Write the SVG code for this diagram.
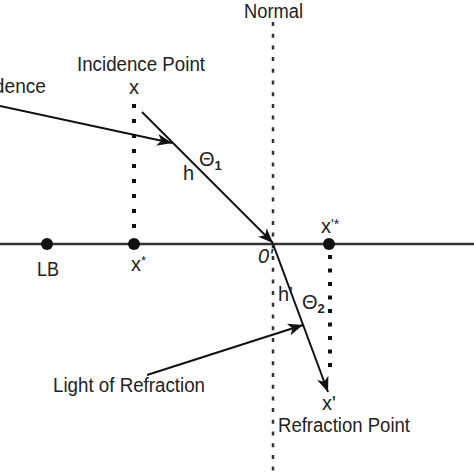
<svg xmlns="http://www.w3.org/2000/svg" width="474" height="474" viewBox="0 0 474 474">
<style>
text{font-family:"Liberation Sans",Arial,sans-serif;fill:#222;font-size:20px}
.ray{stroke:#111;stroke-width:2;fill:none}
.dot{stroke:#111;stroke-width:4;stroke-dasharray:4 11;fill:none}
.dot2{stroke:#111;stroke-width:4;stroke-dasharray:4 9.5;fill:none}
</style>
<defs>
<marker id="ah" markerUnits="userSpaceOnUse" markerWidth="16" markerHeight="12" refX="15" refY="6" orient="auto">
<path d="M0,0 L15,6 L0,12 L4,6 Z" fill="#111"/>
</marker>
</defs>
<rect width="474" height="474" fill="#fff"/>
<g id="connectors">
<line x1="0" y1="244" x2="474" y2="244" stroke="#333" stroke-width="2.5"/>
<line id="normal" x1="273" y1="22" x2="273" y2="474" stroke="#333" stroke-width="2.5" stroke-dasharray="4 7.7"/>
<line class="dot" x1="134" y1="104" x2="134" y2="240"/>
<line class="dot2" x1="330" y1="255" x2="330" y2="370"/>
<line class="ray" x1="0" y1="106" x2="172" y2="143" marker-end="url(#ah)"/>
<line class="ray" x1="142" y1="112" x2="273" y2="243" marker-end="url(#ah)"/>
<line class="ray" x1="273" y1="244" x2="328" y2="392" marker-end="url(#ah)"/>
<line class="ray" x1="147" y1="375" x2="303" y2="325" marker-end="url(#ah)"/>
</g>
<g id="LB"><circle cx="47" cy="244" r="6" fill="#111"/><text x="48" y="276" text-anchor="middle" textLength="22" lengthAdjust="spacingAndGlyphs">LB</text></g>
<g id="xstar"><circle cx="134" cy="244" r="6" fill="#111"/><text x="131" y="271">x<tspan font-size="13" dy="-6">*</tspan></text></g>
<g id="xprimestar"><circle cx="329" cy="244" r="6" fill="#111"/><text x="321" y="233">x<tspan font-size="14" dy="-4">'*</tspan></text></g>
<g id="labels">
<text x="244" y="18" textLength="59" lengthAdjust="spacingAndGlyphs">Normal</text>
<text x="77" y="71" textLength="128" lengthAdjust="spacingAndGlyphs">Incidence Point</text>
<text x="134" y="94" text-anchor="middle">x</text>
<text x="46" y="93" text-anchor="end" textLength="150" lengthAdjust="spacingAndGlyphs">Light of Incidence</text>
<text x="199" y="166" font-size="20">Θ<tspan font-size="13" font-weight="bold" dy="4">1</tspan></text>
<text x="183" y="180">h</text>
<text x="258" y="263" font-style="italic" fill="#555">0'</text>
<text x="278" y="301">h'</text>
<text x="302" y="309" font-size="20">Θ<tspan font-size="13" font-weight="bold" dy="4">2</tspan></text>
<text x="329" y="410" text-anchor="middle">x'</text>
<text x="278" y="432" textLength="132" lengthAdjust="spacingAndGlyphs">Refraction Point</text>
<text x="53" y="392" textLength="152" lengthAdjust="spacingAndGlyphs">Light of Refraction</text>
</g>
</svg>
